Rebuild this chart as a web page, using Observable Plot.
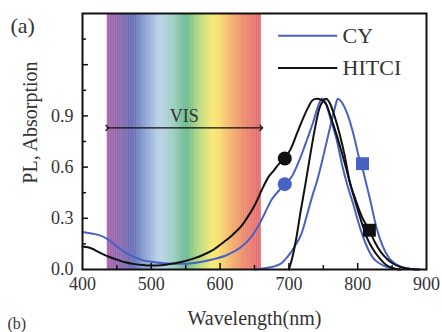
<!DOCTYPE html>
<html><head><meta charset="utf-8">
<script src="https://cdn.jsdelivr.net/npm/d3@7"></script>
<script src="https://cdn.jsdelivr.net/npm/@observablehq/plot@0.6"></script>
<style>
body{margin:0;background:#fff;}
#chart{width:442px;height:332px;overflow:hidden;}
#chart svg text{fill:#333;}
</style></head><body><div id="chart"></div>
<script>
// ---- data ----
const seriesNames = ["CY", "HITCI"];
const seriesColors = ["#4862c2", "#111111"];
const xTickLabels = [400, 500, 600, 700, 800, 900];
const yTickLabels = [0.0, 0.3, 0.6, 0.9];
const visRange = [436, 660];
const spectrumStops = [436, 455, 474, 494, 513, 532, 552, 571, 590, 601, 618, 632, 645, 660];
const spectrumColors = ["#a05aa4", "#8560aa", "#5a66b0", "#8aa2d4", "#b8d0e8", "#98ccbe", "#5fb688",
  "#b8d878", "#f8e86a", "#f7d868", "#f3aa62", "#ed8a64", "#e87464", "#e06266"];

const cyAbs = [[400,0.22],[415,0.21],[425,0.20],[436,0.18],[450,0.135],[462,0.10],[474,0.075],[487,0.055],
  [500,0.045],[523,0.035],[545,0.033],[565,0.04],[590,0.06],[610,0.085],[630,0.13],[645,0.19],[655,0.25],
  [665,0.33],[675,0.41],[685,0.46],[694,0.50],[705,0.55],[712,0.61],[720,0.69],[728,0.78],[735,0.86],
  [741,0.94],[746,0.99],[749,1.0],[753,0.98],[760,0.89],[770,0.75],[778,0.60],[786,0.48],[793,0.39],
  [800,0.29],[807,0.20],[815,0.12],[822,0.07],[832,0.035],[846,0.01],[860,0]];
const cyPL = [[651,0],[665,0.008],[680,0.02],[690,0.04],[697,0.07],[703,0.10],[709,0.14],[715,0.18],
  [720,0.23],[727,0.33],[734,0.43],[741,0.52],[748,0.63],[755,0.75],[762,0.87],[767,0.95],[771,1.0],
  [776,0.985],[781,0.95],[786,0.90],[792,0.82],[797,0.74],[801,0.67],[807,0.59],[812,0.51],[818,0.41],
  [827,0.25],[836,0.14],[846,0.065],[856,0.03],[866,0.012],[878,0.003],[890,0]];
const hitciAbs = [[400,0.135],[408,0.13],[415,0.12],[422,0.105],[435,0.08],[450,0.058],[462,0.042],
  [474,0.033],[487,0.026],[500,0.023],[515,0.025],[532,0.035],[548,0.048],[561,0.064],[575,0.085],
  [590,0.115],[605,0.16],[620,0.21],[632,0.26],[642,0.32],[652,0.39],[661,0.47],[670,0.54],[678,0.58],
  [686,0.62],[694,0.65],[703,0.71],[712,0.80],[720,0.88],[728,0.95],[734,0.99],[740,1.0],[747,0.995],
  [754,0.97],[762,0.88],[770,0.78],[778,0.67],[784,0.58],[792,0.46],[800,0.35],[807,0.26],[813,0.19],
  [822,0.12],[832,0.065],[842,0.025],[852,0.008],[862,0]];
const hitciPL = [[700,0],[705,0.07],[711,0.19],[717,0.34],[724,0.50],[731,0.67],[738,0.83],[744,0.94],
  [750,0.99],[754,1.0],[760,0.97],[767,0.89],[774,0.79],[781,0.67],[788,0.52],[796,0.42],[806,0.31],
  [817,0.23],[825,0.16],[834,0.10],[843,0.06],[851,0.035],[862,0.015],[875,0.005],[888,0]];

const circleMarkers = [{series: "HITCI", x: 694, y: 0.65}, {series: "CY", x: 694, y: 0.50}];
const squareMarkers = [{series: "CY", x: 807, y: 0.62}, {series: "HITCI", x: 817, y: 0.23}];

// ---- layout ----
const W = 442, H = 332, mL = 82, mR = 16, mT = 13, mB = 63;
const fw = W - mL - mR, fh = H - mT - mB;
const font = "Liberation Serif, 'Times New Roman', serif";
const colorOf = s => seriesColors[seriesNames.indexOf(s)];
const bandColor = d3.scaleLinear().domain(spectrumStops).range(spectrumColors).interpolate(d3.interpolateRgb);
const bandCells = d3.range(visRange[0], visRange[1], 1).map(w => ({x1: w, x2: Math.min(w + 1.3, visRange[1]), c: bandColor(w + 0.5)}));
const xMinor = d3.range(450, 900, 100), yAll = d3.range(1, 10).map(i => +(i * 0.15).toFixed(2));
const yMajor = yAll.filter(v => Math.abs(v / 0.3 - Math.round(v / 0.3)) < 1e-6);
const yMinor = yAll.filter(v => !yMajor.includes(v));
const legend = {x1: 685, x2: 771, xText: 778, y0: 1.37, dy: 0.19};
const arrowY = 0.83, visY = 0.9;

const curves = [[cyAbs, "CY"], [cyPL, "CY"], [hitciAbs, "HITCI"], [hitciPL, "HITCI"]];

const chart = Plot.plot({
  width: W, height: H, marginLeft: mL, marginRight: mR, marginTop: mT, marginBottom: mB,
  x: {domain: [400, 900], axis: null},
  y: {domain: [0, 1.5], axis: null},
  color: {type: "identity"},
  style: {fontFamily: font, background: "white", color: "#333"},
  marks: [
    Plot.rect(bandCells, {x1: "x1", x2: "x2", y1: 0, y2: 1.5, fill: "c"}),
    ...curves.map(([data, s]) => Plot.line(data, {x: d => d[0], y: d => d[1], stroke: colorOf(s), strokeWidth: 2, curve: "monotone-x"})),
    Plot.line([{x: visRange[0], y: arrowY}, {x: visRange[1], y: arrowY}], {x: "x", y: "y", stroke: "#111", strokeWidth: 1.3, markerStart: "arrow", markerEnd: "arrow"}),
    Plot.text(["VIS"], {x: d3.mean(visRange), y: visY, fontSize: 18, fill: "#222"}),
    Plot.dot(circleMarkers, {x: "x", y: "y", r: 7, fill: d => colorOf(d.series), symbol: "circle"}),
    Plot.dot(squareMarkers, {x: "x", y: "y", r: 7.3, fill: d => colorOf(d.series), symbol: "square"}),
    Plot.ruleY(seriesNames, {y: (d, i) => legend.y0 - i * legend.dy, x1: legend.x1, x2: legend.x2, stroke: d => colorOf(d), strokeWidth: 2}),
    Plot.text(seriesNames, {x: legend.xText, y: (d, i) => legend.y0 - i * legend.dy, text: d => d, textAnchor: "start", fontSize: 22, fill: "#222"}),
    Plot.frame({stroke: "#111", strokeWidth: 2}),
    Plot.tickX(xTickLabels.slice(1, -1), {x: d => d, stroke: "#111", strokeWidth: 1.5, insetTop: fh - 6}),
    Plot.tickX(xMinor, {x: d => d, stroke: "#111", strokeWidth: 1.5, insetTop: fh - 4}),
    Plot.tickY(yMajor, {y: d => d, stroke: "#111", strokeWidth: 1.5, insetRight: fw - 6}),
    Plot.tickY(yMinor, {y: d => d, stroke: "#111", strokeWidth: 1.5, insetRight: fw - 4}),
    Plot.axisX({ticks: xTickLabels, tickSize: 0, tickPadding: 8, fontSize: 18, tickFormat: d => d, label: null}),
    Plot.axisY({ticks: yTickLabels, tickSize: 0, tickPadding: 9, fontSize: 18, tickFormat: d3.format(".1f"), label: null}),
    Plot.text(["Wavelength(nm)"], {frameAnchor: "bottom", dy: 49, lineAnchor: "middle", fontSize: 20}),
    Plot.text(["PL, Absorption"], {frameAnchor: "left", dx: -52, dy: -19, rotate: -90, textAnchor: "middle", lineAnchor: "middle", fontSize: 20}),
    Plot.text(["(a)"], {frameAnchor: "top-left", dx: -72, dy: 12, textAnchor: "start", lineAnchor: "middle", fontSize: 22}),
    Plot.text(["(b)"], {frameAnchor: "bottom-left", dx: -75, dy: 54, textAnchor: "start", lineAnchor: "middle", fontSize: 16})
  ]
});
document.getElementById("chart").appendChild(chart);
</script>
</body></html>
